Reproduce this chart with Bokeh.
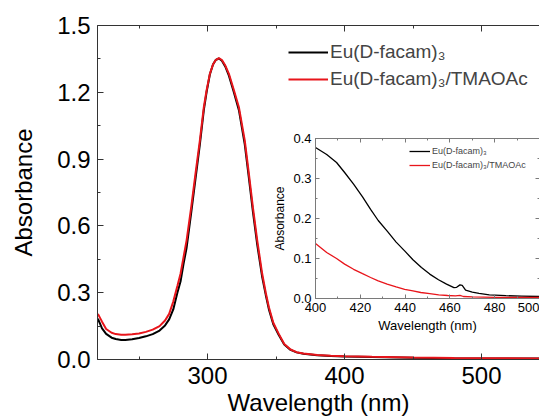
from bokeh.plotting import figure
from bokeh.models import LinearAxis, GridBox, SingleIntervalTicker, NumeralTickFormatter
from bokeh.embed import file_html
from bokeh.resources import INLINE

# ---------------- data ----------------
wl_black = [220, 223, 226, 230, 233, 237, 240, 245, 250, 255, 260, 265, 269, 272, 275, 278,
            280.3, 282.5, 284.7, 288.1, 291.2, 294.4, 297.3, 299.3, 301.7, 304, 306, 308.3,
            310.5, 313, 315.6, 319, 322.9, 327.2, 330.2, 333.1, 336.3, 339.9, 342.5, 344.8,
            348, 352, 356, 360.6, 365, 370, 380, 390, 400, 420, 450, 480, 510, 542]
abs_black = [0.183, 0.14, 0.115, 0.098, 0.092, 0.088, 0.088, 0.091, 0.097, 0.104, 0.114, 0.13,
             0.153, 0.18, 0.225, 0.30, 0.35, 0.43, 0.50, 0.66, 0.81, 0.965, 1.12, 1.2, 1.28,
             1.325, 1.345, 1.352, 1.342, 1.315, 1.275, 1.205, 1.12, 0.965, 0.815, 0.665, 0.515,
             0.37, 0.29, 0.225, 0.158, 0.11, 0.067, 0.043, 0.032, 0.026, 0.019, 0.016, 0.014,
             0.011, 0.008, 0.006, 0.005, 0.004]

wl_red = [220, 223, 226, 230, 233, 237, 240, 245, 250, 255, 260, 265, 269, 272, 275, 278,
          280.3, 282.5, 284.7, 288.1, 291.2, 294.4, 297.3, 299.3, 301.7, 304, 306, 308.3,
          310.5, 313, 315.6, 319, 322.9, 327.2, 330.2, 333.1, 336.3, 339.9, 342.5, 344.8,
          348, 352, 356, 360.6, 365, 370, 380, 390, 400, 420, 450, 480, 510, 542]
abs_red = [0.205, 0.17, 0.137, 0.12, 0.114, 0.111, 0.111, 0.113, 0.117, 0.124, 0.134, 0.150,
           0.175, 0.205, 0.26, 0.33, 0.385, 0.46, 0.534, 0.684, 0.834, 0.983, 1.133, 1.208,
           1.283, 1.325, 1.345, 1.353, 1.345, 1.32, 1.283, 1.215, 1.133, 0.983, 0.834, 0.684,
           0.534, 0.385, 0.30, 0.235, 0.165, 0.115, 0.07, 0.045, 0.033, 0.027, 0.02, 0.017,
           0.015, 0.012, 0.009, 0.007, 0.006, 0.005]

# inset (400-500 nm)
wl_in_black = [400, 405, 409.4, 413, 417, 421, 424.6, 428, 432.2, 436, 439.8, 443.5, 447.3,
               451, 454.9, 458.5, 461.8, 463, 464.5, 465.5, 467, 470, 473, 477.6, 485, 492, 500]
abs_in_black = [0.3775, 0.36, 0.34, 0.315, 0.286, 0.254, 0.223, 0.195, 0.167, 0.141, 0.119,
                0.097, 0.0775, 0.061, 0.047, 0.036, 0.027, 0.028, 0.034, 0.033, 0.021, 0.016,
                0.013, 0.009, 0.007, 0.006, 0.005]
wl_in_red = [400, 405, 409.4, 413, 417, 421, 424.6, 428, 432, 436, 439.8, 443.5, 447, 451,
             455, 459, 462.5, 464.5, 466, 470, 480, 490, 500]
abs_in_red = [0.1375, 0.115, 0.1, 0.086, 0.073, 0.062, 0.0525, 0.044, 0.036, 0.029, 0.023,
              0.019, 0.015, 0.012, 0.009, 0.0075, 0.0067, 0.008, 0.005, 0.004, 0.003, 0.003, 0.003]

labels = ["Eu(D-facam)\u2083", "Eu(D-facam)\u2083/TMAOAc"]
x_label = "Wavelength (nm)"
y_label = "Absorbance"

FONT = "Liberation Sans"


def style_axis(ax, color, label_size, tick_in, minor_in, show_labels=True):
    ax.axis_line_color = color
    ax.major_tick_line_color = color
    ax.minor_tick_line_color = color
    ax.major_tick_in = tick_in
    ax.major_tick_out = 0
    ax.minor_tick_in = minor_in
    ax.minor_tick_out = 0
    ax.major_label_text_font = FONT
    ax.axis_label_text_font = FONT
    ax.axis_label_text_font_style = "normal"
    ax.axis_label_text_color = "black"
    if show_labels:
        ax.major_label_text_font_size = label_size
        ax.major_label_text_color = "black"
    else:
        ax.major_label_text_font_size = "1px"
        ax.major_label_text_color = None
        ax.major_label_standoff = 0
        ax.axis_label_standoff = 0


# ---------------- main plot ----------------
p = figure(width=539, height=419, x_range=(219.7, 542.3), y_range=(0, 1.5),
           output_backend="svg", toolbar_location=None,
           min_border_left=97, min_border_right=0, min_border_top=25, min_border_bottom=60)
p.outline_line_color = None
p.grid.visible = False
p.background_fill_color = "white"
p.border_fill_color = "white"

p.xaxis.ticker = SingleIntervalTicker(interval=100, num_minor_ticks=2)
p.yaxis.ticker = SingleIntervalTicker(interval=0.3, num_minor_ticks=2)
p.yaxis.formatter = NumeralTickFormatter(format="0.0")
style_axis(p.xaxis[0], "#333333", "24px", 6, 3)
style_axis(p.yaxis[0], "#333333", "24px", 6, 3)
p.xaxis.axis_label = x_label
p.yaxis.axis_label = y_label
p.xaxis.axis_label_text_font_size = "24px"
p.yaxis.axis_label_text_font_size = "24px"
p.xaxis.major_label_standoff = 7
p.yaxis.major_label_standoff = 7
p.xaxis.axis_label_standoff = 2
p.yaxis.axis_label_standoff = 17

top = LinearAxis(ticker=SingleIntervalTicker(interval=100, num_minor_ticks=2))
style_axis(top, "#333333", "24px", 6, 3, show_labels=False)
p.add_layout(top, "above")

p.line(wl_black, abs_black, line_color="black", line_width=2, legend_label=labels[0])
p.line(wl_red, abs_red, line_color="#e8151b", line_width=2, legend_label=labels[1])

lg = p.legend[0]
lg.location = (191, 268)
lg.glyph_width = 40
lg.glyph_height = 24
lg.label_height = 24
lg.spacing = 3
lg.padding = 0
lg.margin = 0
lg.label_standoff = 2
lg.border_line_color = None
lg.background_fill_alpha = 0
lg.label_text_font = FONT
lg.label_text_font_size = "19px"

# ---------------- inset ----------------
ins = figure(width=269, height=215, x_range=(400, 500), y_range=(0, 0.4),
             output_backend="svg", toolbar_location=None,
             min_border_left=43, min_border_right=0, min_border_top=13, min_border_bottom=42)
ins.outline_line_color = None
ins.grid.visible = False
ins.background_fill_color = None
ins.border_fill_color = None

GRAY = "#7a7a7a"
ins.xaxis.ticker = SingleIntervalTicker(interval=20, num_minor_ticks=2)
ins.yaxis.ticker = SingleIntervalTicker(interval=0.1, num_minor_ticks=2)
ins.yaxis.formatter = NumeralTickFormatter(format="0.0")
style_axis(ins.xaxis[0], GRAY, "13px", 4, 2)
style_axis(ins.yaxis[0], GRAY, "13px", 4, 2)
ins.xaxis.axis_label = x_label
ins.yaxis.axis_label = y_label
ins.xaxis.axis_label_text_font_size = "13px"
ins.yaxis.axis_label_text_font_size = "12px"
ins.xaxis.major_label_standoff = 4
ins.yaxis.major_label_standoff = 4
ins.xaxis.axis_label_standoff = 3
ins.yaxis.axis_label_standoff = 3

itop = LinearAxis(ticker=SingleIntervalTicker(interval=20, num_minor_ticks=2))
style_axis(itop, GRAY, "13px", 4, 2, show_labels=False)
ins.add_layout(itop, "above")
iright = LinearAxis(ticker=SingleIntervalTicker(interval=0.1, num_minor_ticks=2))
style_axis(iright, GRAY, "13px", 4, 2, show_labels=False)
ins.add_layout(iright, "right")

ins.line(wl_in_black, abs_in_black, line_color="black", line_width=1.3, legend_label=labels[0])
ins.line(wl_in_red, abs_in_red, line_color="#e8151b", line_width=1.3, legend_label=labels[1])

il = ins.legend[0]
il.location = (94, 127)
il.glyph_width = 21
il.glyph_height = 12
il.label_height = 12
il.spacing = 2
il.padding = 0
il.margin = 0
il.label_standoff = 2
il.border_line_color = None
il.background_fill_alpha = 0
il.label_text_font = FONT
il.label_text_font_size = "9px"

layout = GridBox(children=[(p, 0, 0, 3, 2), (ins, 1, 1, 1, 1)],
                 rows=["125px", "215px", "79px"], cols=["270px", "269px"], spacing=0)

open("out.html", "w").write(file_html(layout, INLINE))
